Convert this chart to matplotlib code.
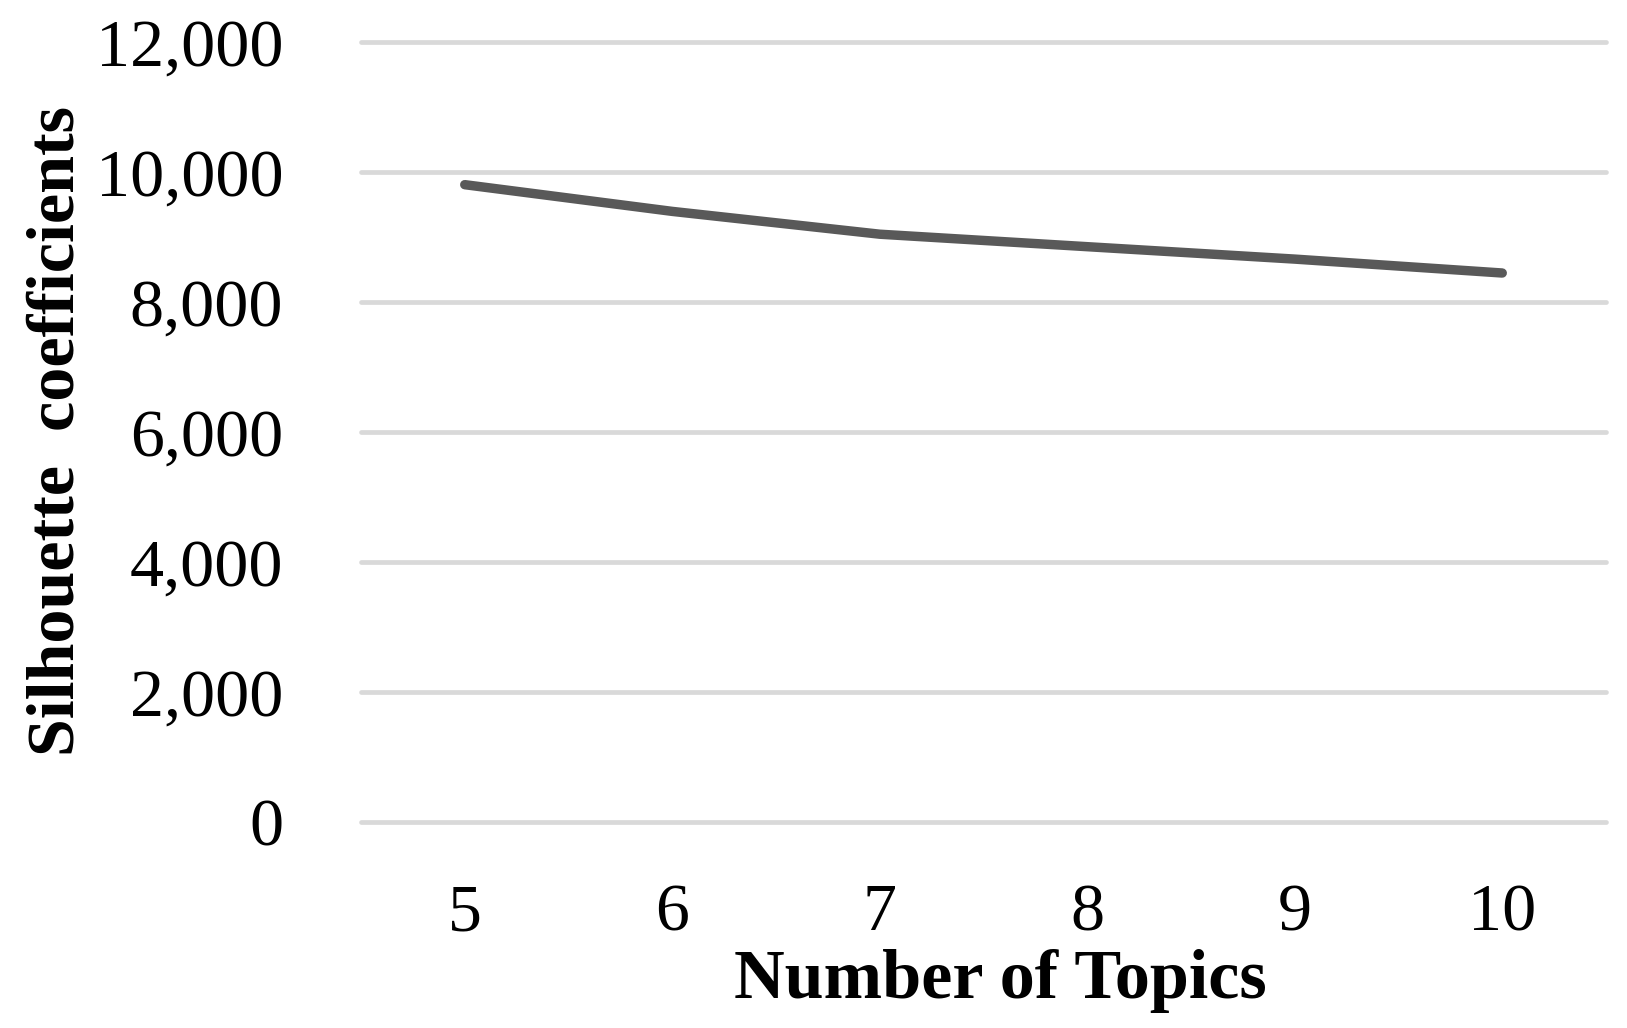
import matplotlib
matplotlib.use("Agg")
import matplotlib.pyplot as plt
from matplotlib.ticker import FuncFormatter

topics = [5, 6, 7, 8, 9, 10]
silhouette = [9805, 9394, 9043, 8851, 8660, 8446]
yticks = [0, 2000, 4000, 6000, 8000, 10000, 12000]

plt.rcParams['font.family'] = ['Liberation Serif', 'DejaVu Serif']

W, H = 1627, 1028
fig = plt.figure(figsize=(W / 100, H / 100), dpi=100)
left, right, bottom, top = 361 / W, 1606 / W, 1 - 822 / H, 1 - 42 / H
ax = fig.add_axes([left, bottom, right - left, top - bottom])

ax.plot(topics, silhouette, color='#595959', linewidth=6.8,
        solid_capstyle='round', solid_joinstyle='round', zorder=3)

ax.set_xlim(4.5, 10.5)
ax.set_ylim(0, 12000)
ax.set_xticks(topics)
ax.set_yticks(yticks)
ax.yaxis.set_major_formatter(FuncFormatter(lambda v, p: f"{int(v):,}"))
ax.grid(axis='y', color='#d9d9d9', linewidth=3.4, solid_capstyle='round')
ax.grid(axis='x', visible=False)
for gl in ax.get_ygridlines():
    gl.set_clip_on(False)
ax.set_axisbelow(True)
for s in ax.spines.values():
    s.set_visible(False)
ax.tick_params(axis='both', length=0, labelsize=49, colors='black')
ax.tick_params(axis='x', pad=44)
ax.tick_params(axis='y', pad=56)

ax.set_xlabel('Number of Topics', fontsize=50.5, fontweight='bold')
ax.xaxis.label.set_va('top')
ax.xaxis.set_label_coords(0.5 + 17 / 1245, (822 - 949) / 780)
ax.set_ylabel('Silhouette  coefficients', fontsize=49, fontweight='bold')
ax.yaxis.set_label_coords(88 / W, 1 - 431 / H, transform=fig.transFigure)

fig.savefig('out.png', dpi=100, facecolor='white')
